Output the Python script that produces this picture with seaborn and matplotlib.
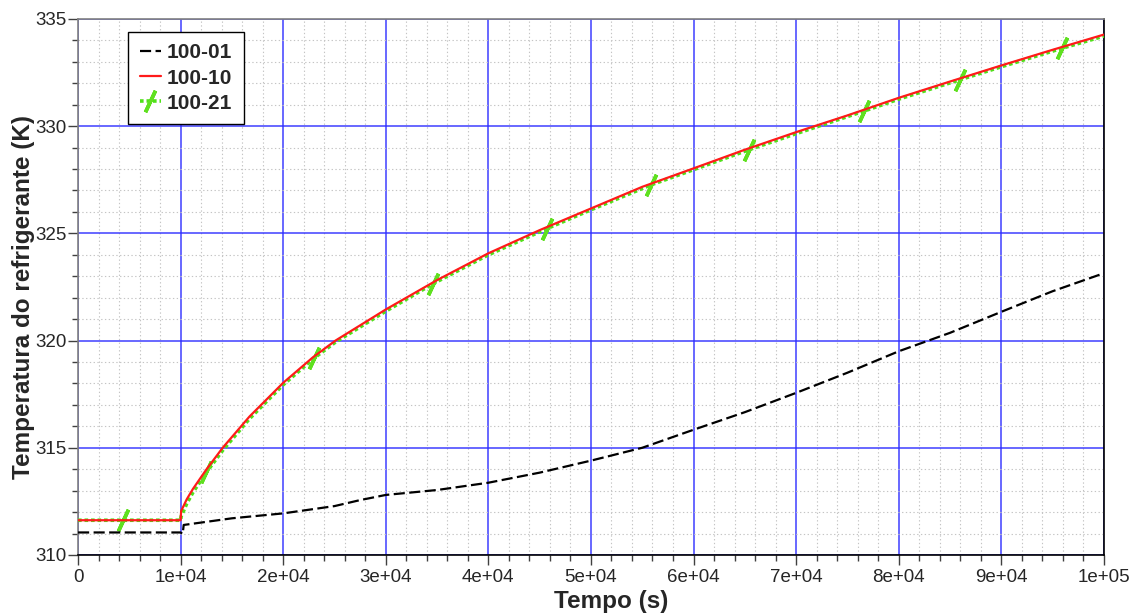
import numpy as np
import pandas as pd
import matplotlib
matplotlib.use("Agg")
import matplotlib.pyplot as plt
from matplotlib.ticker import MultipleLocator
import seaborn as sns

# ---------------- data ----------------
t_black = [0, 1.0e4, 1.02e4, 1.03e4, 1.5e4, 2.0e4, 2.5e4, 2.75e4, 3.0e4, 3.5e4, 4.0e4, 4.5e4,
           5.0e4, 5.5e4, 6.0e4, 6.5e4, 7.0e4, 7.5e4, 8.0e4, 8.5e4, 9.0e4, 9.5e4, 1.0e5]
y_black = [311.05, 311.05, 310.98, 311.40, 311.71, 311.94, 312.28, 312.56, 312.80, 313.03, 313.37,
           313.84, 314.40, 315.00, 315.84, 316.66, 317.56, 318.50, 319.50, 320.36, 321.34, 322.30,
           323.14]

t_red = [0, 1.0e4, 1.005e4, 1.06e4, 1.12e4, 1.25e4, 1.41e4, 1.67e4, 2.0e4, 2.29e4, 2.51e4, 3.0e4,
         3.5e4, 4.0e4, 4.5e4, 5.0e4, 5.5e4, 6.0e4, 6.5e4, 7.0e4, 7.5e4, 8.0e4, 8.5e4,
         9.0e4, 9.5e4, 1.0e5]
y_red = [311.62, 311.62, 312.05, 312.60, 313.08, 313.98, 315.00, 316.45, 318.03, 319.22, 320.00,
         321.45, 322.82, 324.07, 325.15, 326.16, 327.17, 328.03, 328.90, 329.72, 330.50, 331.32,
         332.08, 332.83, 333.56, 334.27]

t_green = [0, 4.4e3, 1.0e4, 1.005e4, 1.06e4, 1.12e4, 1.25e4, 1.41e4, 1.67e4, 2.0e4, 2.3e4, 2.51e4,
           3.0e4, 3.46e4, 4.0e4, 4.57e4, 5.0e4, 5.59e4, 6.0e4, 6.54e4, 7.0e4, 7.66e4, 8.0e4,
           8.6e4, 9.0e4, 9.59e4, 1.0e5]
y_green = [311.62, 311.62, 311.62, 311.80, 312.40, 312.92, 313.85, 314.88, 316.35, 317.94, 319.18,
           319.93, 321.37, 322.65, 324.00, 325.22, 326.10, 327.27, 327.97, 328.90, 329.65, 330.70,
           331.26, 332.17, 332.77, 333.63, 334.20]
green_marker_times = [4.4e3, 1.25e4, 2.3e4, 3.46e4, 4.57e4, 5.59e4, 6.54e4, 7.66e4, 8.6e4, 9.59e4]

labels = ["100-01", "100-10", "100-21"]
x_ticks = [0, 1e4, 2e4, 3e4, 4e4, 5e4, 6e4, 7e4, 8e4, 9e4, 1e5]
x_tick_labels = ["0", "1e+04", "2e+04", "3e+04", "4e+04", "5e+04", "6e+04", "7e+04",
                 "8e+04", "9e+04", "1e+05"]
y_ticks = [310, 315, 320, 325, 330, 335]

# ---------------- plot ----------------
sns.set_style("white")
plt.rcParams["font.family"] = ["Liberation Sans", "DejaVu Sans"]

fig = plt.figure(figsize=(11.31, 6.15), dpi=100)
ax = fig.add_axes([0.069, 0.0976, 0.907, 0.8716])

df_b = pd.DataFrame({"t": t_black, "T": y_black})
df_r = pd.DataFrame({"t": t_red, "T": y_red})
df_g = pd.DataFrame({"t": t_green, "T": y_green})
mark_idx = [t_green.index(m) for m in green_marker_times]

sns.lineplot(data=df_g, x="t", y="T", ax=ax, color="#4fe01a", lw=2.6,
             linestyle=(0, (1.0, 0.8)), estimator=None, sort=False,
             marker=(2, 2, -25), markersize=17, markeredgewidth=2.6,
             markeredgecolor="#5fe020", markevery=mark_idx, label=labels[2], zorder=3)
sns.lineplot(data=df_r, x="t", y="T", ax=ax, color="#ff1a1a", lw=1.6,
             estimator=None, sort=False, label=labels[1], zorder=4)
sns.lineplot(data=df_b, x="t", y="T", ax=ax, color="black", lw=1.6,
             linestyle=(0, (5, 2)), estimator=None, sort=False, label=labels[0], zorder=5)

ax.set_xlim(0, 1e5)
ax.set_ylim(310, 335)
ax.set_xticks(x_ticks)
ax.set_xticklabels(x_tick_labels)
ax.set_yticks(y_ticks)
ax.xaxis.set_minor_locator(MultipleLocator(2e3))
ax.yaxis.set_minor_locator(MultipleLocator(1))

ax.grid(which="major", color="#2a2aff", lw=1.1, alpha=0.9)
ax.grid(which="minor", color="#c4c4c4", lw=0.8, linestyle=(0, (1.2, 2.2)))
ax.set_axisbelow(True)

ax.tick_params(which="major", direction="out", length=7, width=1, color="#404040",
               labelsize=13.5, pad=1.5, bottom=True, left=True)
ax.tick_params(which="minor", direction="out", length=4, width=1, color="#404040",
               bottom=True, left=True)
ax.tick_params(axis="x", which="major", pad=3)

for side, col in [("left", "#808080"), ("top", "#808080"), ("bottom", "black"), ("right", "black")]:
    ax.spines[side].set_visible(True)
    ax.spines[side].set_color(col)
    ax.spines[side].set_linewidth(1.2)

ax.set_xlabel("Tempo (s)", fontsize=17.5, fontweight="bold")
ax.set_ylabel("Temperatura do refrigerante (K)", fontsize=17.5, fontweight="bold")
ax.xaxis.set_label_coords(0.52, -0.066)
ax.yaxis.set_label_coords(-0.042, 0.481)

handles, labs = ax.get_legend_handles_labels()
order = [labs.index(l) for l in labels]
leg = ax.legend([handles[i] for i in order], [labs[i] for i in order],
                loc="upper left", bbox_to_anchor=(0.049, 0.976), borderaxespad=0,
                fancybox=False, framealpha=1, edgecolor="black",
                prop={"weight": "bold", "size": 15}, handlelength=1.0,
                handletextpad=0.3, labelspacing=0.3, borderpad=0.55)
leg.get_frame().set_linewidth(1.0)

fig.savefig("out.png", dpi=100)
